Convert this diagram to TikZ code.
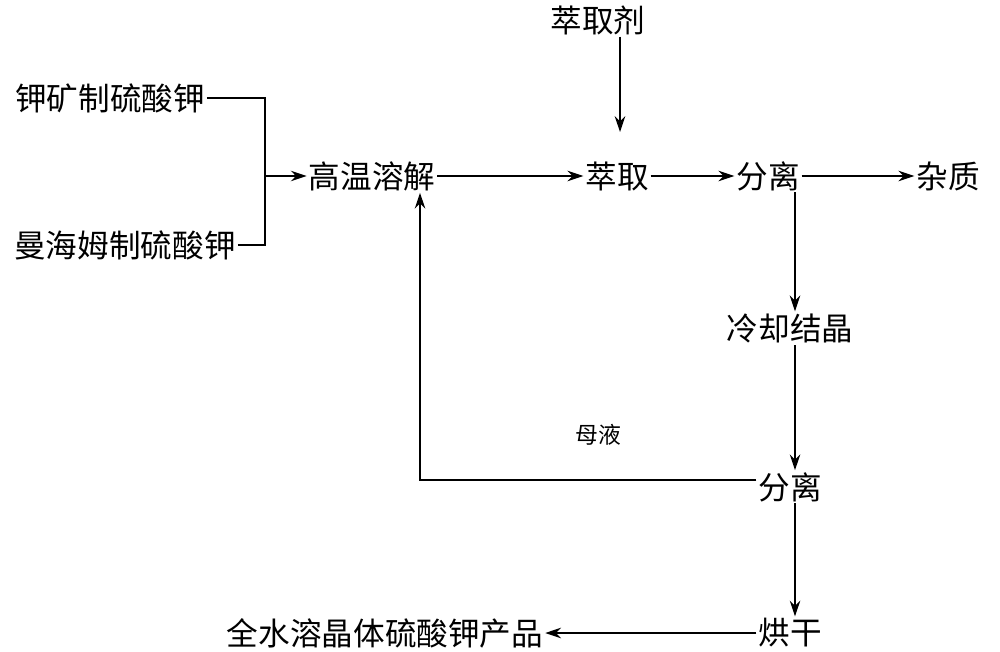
\documentclass[tikz,border=0pt]{standalone}
\usepackage{fontspec}
\setmainfont{Noto Sans CJK SC}
\usetikzlibrary{arrows.meta}
\begin{document}
\begin{tikzpicture}[x=0.02cm,y=-0.02cm,
  stage/.style={inner sep=1pt, font=\fontsize{18}{20}\selectfont},
  flow/.style={line width=0.8pt, -{Stealth[length=9pt,width=6pt]}},
  link/.style={line width=0.8pt}]
\useasboundingbox (0,0) rectangle (1000,652);
% Nodes
\node[stage] (agent) at (598,20) {萃取剂};
\node[stage] (ore) at (110,98) {钾矿制硫酸钾};
\node[stage] (mann) at (125,245) {曼海姆制硫酸钾};
\node[stage] (dissolve) at (372,176) {高温溶解};
\node[stage] (extract) at (617,176) {萃取};
\node[stage] (sepA) at (768,176) {分离};
\node[stage] (waste) at (948,176) {杂质};
\node[stage] (cool) at (790,328) {冷却结晶};
\node[font=\fontsize{13}{15}\selectfont] (mother) at (598,435) {母液};
\node[stage] (sepB) at (790,487) {分离};
\node[stage] (dry) at (790,633) {烘干};
\node[stage] (product) at (385,633) {全水溶晶体硫酸钾产品};
\coordinate (join) at (265,176);
% Connectors
\draw[link] (ore.east) -| (join);
\draw[link] (mann.east) -| (join);
\draw[flow] (join) -- (dissolve.west);
\draw[flow] (agent.south -| 620,0) -- (620,132);
\draw[flow] (dissolve) -- (extract);
\draw[flow] (extract) -- (sepA);
\draw[flow] (sepA) -- (waste);
\draw[flow] (795,192) -- (cool.north -| 795,0);
\draw[flow] (795,345) -- (sepB.north -| 795,0);
\draw[flow] (sepB.west |- 0,480) -| (dissolve.south -| 420,0);
\draw[flow] (795,503) -- (dry.north -| 795,0);
\draw[flow] (dry) -- (product);
\end{tikzpicture}
\end{document}
